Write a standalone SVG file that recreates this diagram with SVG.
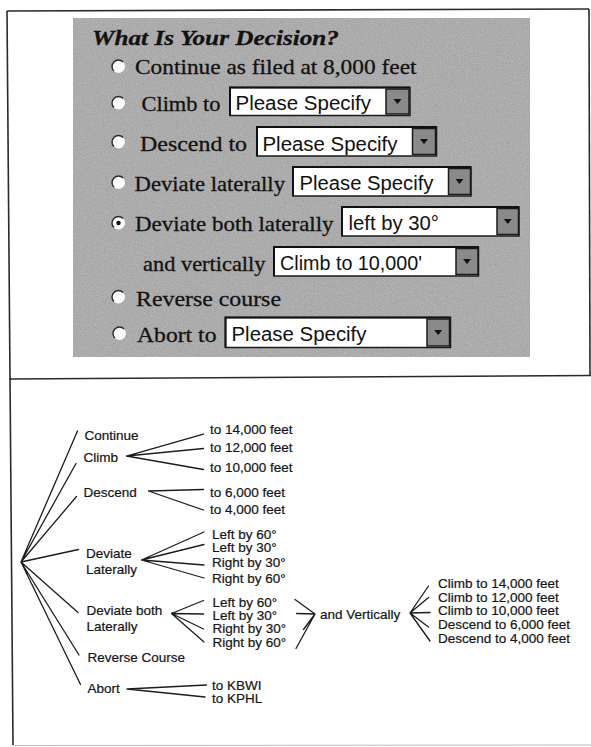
<svg xmlns="http://www.w3.org/2000/svg" width="591" height="747" viewBox="0 0 591 747">
<style>
.frame{stroke:#2a2a2a;stroke-width:1.6;fill:none}
.serif{font-family:"Liberation Serif","Times New Roman",serif;font-size:21px;fill:#121212;stroke:#121212;stroke-width:0.3}
.title{font-weight:bold;font-style:italic}
.dd{font-family:"Liberation Sans",Arial,sans-serif;font-size:20px;fill:#111}
.box{fill:#fff;stroke:#1a1a1a;stroke-width:1.5}
.boxedge{stroke:#111;stroke-width:2;fill:none}
.btn{fill:#8a8a8a;stroke:#1a1a1a;stroke-width:1.5}
.tri{fill:#111}
.rfill{fill:#fbfbfb}
.redge{fill:none;stroke:#2a2a2a;stroke-width:1.4}
.lbl{font-family:"Liberation Sans",Arial,sans-serif;font-size:13.5px;fill:#141414;stroke:#141414;stroke-width:0.2}
.ln{stroke:#1c1c1c;stroke-width:1.3;fill:none;stroke-linecap:round}
</style>
<defs>
<filter id="grain" x="0" y="0" width="1" height="1">
<feTurbulence type="fractalNoise" baseFrequency="0.9" numOctaves="2" seed="7"/>
<feColorMatrix type="matrix" values="0.33 0.33 0.33 0 0  0.33 0.33 0.33 0 0  0.33 0.33 0.33 0 0  0 0 0 0 0.4"/>
</filter>
</defs>
<rect x="0" y="0" width="591" height="747" fill="#fff"/>
<g id="frame">
<line class="frame" x1="7" y1="11" x2="589" y2="9"/>
<line class="frame" x1="7" y1="11" x2="13" y2="745"/>
<line class="frame" x1="589" y1="9" x2="590" y2="376"/>
<line class="frame" x1="9" y1="379" x2="591" y2="375.5" stroke-width="2"/>
<line x1="13" y1="745.5" x2="591" y2="745" stroke="#bbb" stroke-width="1"/>
</g>
<g id="form-panel">
<rect x="73" y="18" width="457" height="339" fill="#a2a2a2"/>
<rect x="73" y="18" width="457" height="339" fill="#808080" filter="url(#grain)"/>
<text class="serif title" x="92" y="45" textLength="247" lengthAdjust="spacingAndGlyphs">What Is Your Decision?</text>
</g>
<g id="opt-continue">
<circle class="rfill" cx="118.5" cy="66.5" r="6.5"/><path class="redge" d="M113.9 71.1A6.5 6.5 0 0 1 123.1 61.9"/>
<text class="serif" x="135" y="74" textLength="281.5" lengthAdjust="spacingAndGlyphs">Continue as filed at 8,000 feet</text>
</g>
<g id="opt-climb">
<circle class="rfill" cx="118.5" cy="103" r="6.5"/><path class="redge" d="M113.9 107.6A6.5 6.5 0 0 1 123.1 98.4"/>
<text class="serif" x="141.5" y="111" textLength="79" lengthAdjust="spacingAndGlyphs">Climb to</text>
<rect class="box" x="230" y="87.5" width="180" height="28"/>
<path class="boxedge" d="M230 115.5V87.5H410"/>
<text class="dd" x="235.5" y="110" textLength="135.5" lengthAdjust="spacingAndGlyphs">Please Specify</text>
<rect class="btn" x="386" y="89" width="23" height="25"/>
<path class="tri" d="M393.5 99h8l-4 5z"/>
</g>
<g id="opt-descend">
<circle class="rfill" cx="118.5" cy="142" r="6.5"/><path class="redge" d="M113.9 146.6A6.5 6.5 0 0 1 123.1 137.4"/>
<text class="serif" x="140" y="151" textLength="107" lengthAdjust="spacingAndGlyphs">Descend to</text>
<rect class="box" x="257" y="127" width="179.5" height="29"/>
<path class="boxedge" d="M257 156V127H436.5"/>
<text class="dd" x="262.5" y="150.5" textLength="135" lengthAdjust="spacingAndGlyphs">Please Specify</text>
<rect class="btn" x="412.5" y="128.5" width="23" height="26"/>
<path class="tri" d="M420 139h8l-4 5z"/>
</g>
<g id="opt-deviate-lat">
<circle class="rfill" cx="118.5" cy="182.5" r="6.5"/><path class="redge" d="M113.9 187.1A6.5 6.5 0 0 1 123.1 177.9"/>
<text class="serif" x="134.5" y="190.5" textLength="150.5" lengthAdjust="spacingAndGlyphs">Deviate laterally</text>
<rect class="box" x="293" y="167" width="178" height="29"/>
<path class="boxedge" d="M293 196V167H471"/>
<text class="dd" x="299.5" y="190" textLength="134" lengthAdjust="spacingAndGlyphs">Please Specify</text>
<rect class="btn" x="448.5" y="168.5" width="22" height="26"/>
<path class="tri" d="M455.5 179h8l-4 5z"/>
</g>
<g id="opt-deviate-both">
<circle class="rfill" cx="118.5" cy="223" r="6.5"/><path class="redge" d="M113.9 227.6A6.5 6.5 0 0 1 123.1 218.4"/>
<circle cx="118.5" cy="223" r="2.2" fill="#111"/>
<text class="serif" x="135" y="230.5" textLength="198.5" lengthAdjust="spacingAndGlyphs">Deviate both laterally</text>
<rect class="box" x="342" y="207" width="177" height="29"/>
<path class="boxedge" d="M342 236V207H519"/>
<text class="dd" x="348.5" y="230" textLength="90.5" lengthAdjust="spacingAndGlyphs">left by 30°</text>
<rect class="btn" x="497" y="208.5" width="21.5" height="26"/>
<path class="tri" d="M503.8 219h8l-4 5z"/>
<text class="serif" x="143" y="271" textLength="122.5" lengthAdjust="spacingAndGlyphs">and vertically</text>
<rect class="box" x="274" y="247" width="204.5" height="29"/>
<path class="boxedge" d="M274 276V247H478.5"/>
<text class="dd" x="280" y="269.5" textLength="142" lengthAdjust="spacingAndGlyphs">Climb to 10,000'</text>
<rect class="btn" x="456" y="248.5" width="22" height="26"/>
<path class="tri" d="M463 259h8l-4 5z"/>
</g>
<g id="opt-reverse">
<circle class="rfill" cx="118.5" cy="297" r="6.5"/><path class="redge" d="M113.9 301.6A6.5 6.5 0 0 1 123.1 292.4"/>
<text class="serif" x="136" y="305.5" textLength="145" lengthAdjust="spacingAndGlyphs">Reverse course</text>
</g>
<g id="opt-abort">
<circle class="rfill" cx="119.5" cy="333.5" r="6.5"/><path class="redge" d="M114.9 338.1A6.5 6.5 0 0 1 124.1 328.9"/>
<text class="serif" x="137" y="342" textLength="79.5" lengthAdjust="spacingAndGlyphs">Abort to</text>
<rect class="box" x="225.5" y="317.5" width="225" height="30"/>
<path class="boxedge" d="M225.5 347.5V317.5H450.5"/>
<text class="dd" x="231.5" y="340.5" textLength="135" lengthAdjust="spacingAndGlyphs">Please Specify</text>
<rect class="btn" x="427" y="319" width="22.5" height="27"/>
<path class="tri" d="M434.2 330h8l-4 5z"/>
</g>
<g id="connectors">
<path class="ln" d="M21 562L77.5 431M21 562L76 463.5M21 562L76.5 496.5M21 562L78.5 549.5M21 562L78 612.5M21 562L79 655M21 562L80.5 684.5"/>
<path class="ln" d="M126.5 456L203.5 434M126.5 456L203.5 448.5M126.5 456L203.5 469.5"/>
<path class="ln" d="M148.5 491L203.5 489.5M148.5 491L203.5 510"/>
<path class="ln" d="M141.5 560L204 532M141.5 560L204 544.5M141.5 560L204 565M141.5 560L204 578"/>
<path class="ln" d="M171.5 613.5L203.5 600.5M171.5 613.5L203.5 614M171.5 613.5L203.5 629M171.5 613.5L204 642"/>
<path class="ln" d="M295 599.5L315 614M296.5 613.5L315 614M303.5 629.5L315 614M296 648.5L315 614"/>
<path class="ln" d="M410 613L428.5 586M410 613L428.5 597.5M410 613L430 612.5M410 613L428.5 627M410 613L430 641"/>
<path class="ln" d="M127 689L206.5 685M127 689L205 697"/>
</g>
<g id="n-continue"><text class="lbl" x="84.5" y="440">Continue</text></g>
<g id="n-climb"><text class="lbl" x="83.5" y="462">Climb</text></g>
<g id="n-descend"><text class="lbl" x="83.5" y="497">Descend</text></g>
<g id="n-deviate-lat"><text class="lbl" x="86" y="557.5">Deviate</text><text class="lbl" x="86" y="573.5">Laterally</text></g>
<g id="n-deviate-both"><text class="lbl" x="86.5" y="615">Deviate both</text><text class="lbl" x="86.5" y="631">Laterally</text></g>
<g id="n-reverse"><text class="lbl" x="87.5" y="661.5">Reverse Course</text></g>
<g id="n-abort"><text class="lbl" x="87.5" y="693">Abort</text></g>
<g id="n-climb-opts">
<text class="lbl" x="210" y="434">to 14,000 feet</text>
<text class="lbl" x="210" y="451.5">to 12,000 feet</text>
<text class="lbl" x="210" y="472">to 10,000 feet</text>
</g>
<g id="n-descend-opts">
<text class="lbl" x="210" y="496.5">to 6,000 feet</text>
<text class="lbl" x="210" y="513.5">to 4,000 feet</text>
</g>
<g id="n-lat-opts">
<text class="lbl" x="212" y="538.5">Left by 60°</text>
<text class="lbl" x="212" y="551.5">Left by 30°</text>
<text class="lbl" x="212" y="566.5">Right by 30°</text>
<text class="lbl" x="212" y="583">Right by 60°</text>
</g>
<g id="n-both-opts">
<text class="lbl" x="212.5" y="606.5">Left by 60°</text>
<text class="lbl" x="212.5" y="619.5">Left by 30°</text>
<text class="lbl" x="212.5" y="633">Right by 30°</text>
<text class="lbl" x="212.5" y="647">Right by 60°</text>
</g>
<g id="n-vertically"><text class="lbl" x="320" y="618.5">and Vertically</text></g>
<g id="n-vert-opts">
<text class="lbl" x="438" y="588.3">Climb to 14,000 feet</text>
<text class="lbl" x="438" y="601.5">Climb to 12,000 feet</text>
<text class="lbl" x="438" y="615">Climb to 10,000 feet</text>
<text class="lbl" x="438" y="628.5">Descend to 6,000 feet</text>
<text class="lbl" x="438" y="642.5">Descend to 4,000 feet</text>
</g>
<g id="n-abort-opts">
<text class="lbl" x="212" y="689.5">to KBWI</text>
<text class="lbl" x="212" y="703">to KPHL</text>
</g>
</svg>
